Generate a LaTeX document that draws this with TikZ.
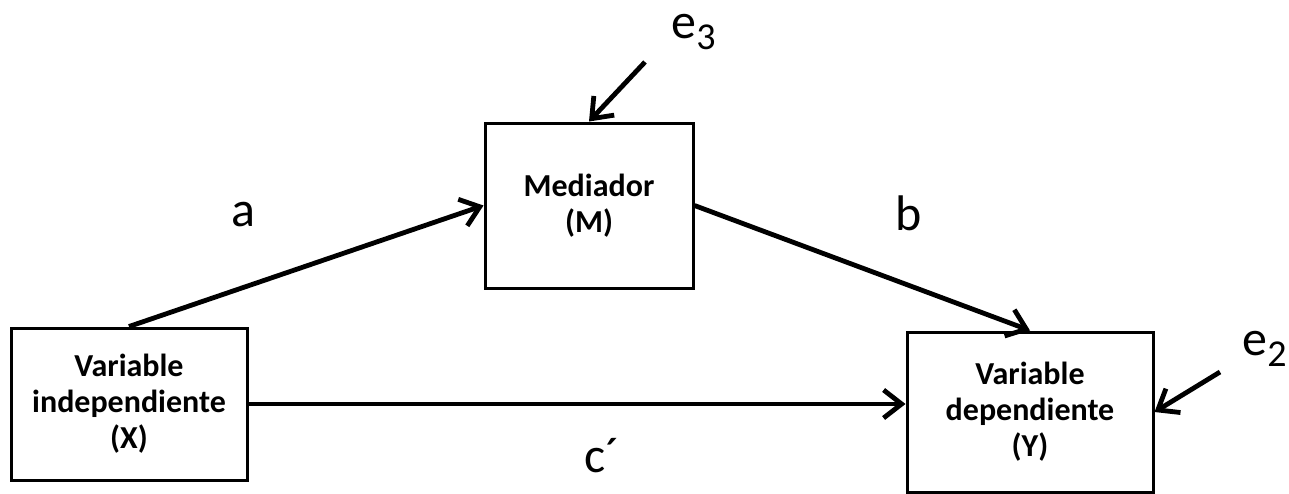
\documentclass[tikz,border=0pt]{standalone}
\usepackage{fontspec}
\setmainfont{Carlito}
\usetikzlibrary{arrows.meta}

\newcommand{\errsub}[1]{\raisebox{-5.5pt}{\fontsize{19}{19}\selectfont #1}}

\begin{document}
\begin{tikzpicture}[x=0.5pt,y=-0.5pt,
    >={Straight Barb[length=9pt,width=14pt,line width=2.4pt]},
    varbox/.style={draw,line width=1.5pt,align=center,font=\bfseries\fontsize{16}{18}\selectfont,
      inner sep=0pt},
    path/.style={->,line width=2.4pt},
    coef/.style={font=\fontsize{25}{30}\selectfont,inner sep=0pt,anchor=base}]
  \useasboundingbox (0,0) rectangle (1289,493);

  \node[varbox,minimum width=118pt,minimum height=76pt] (X) at (129,404)
    {Variable\\independiente\\(X)};
  \node[varbox,minimum width=104pt,minimum height=82.5pt] (M) at (589,205.5)
    {Mediador\\(M)};
  \node[varbox,minimum width=123pt,minimum height=80pt] (Y) at (1030,412)
    {Variable\\dependiente\\(Y)};

  \draw[path] (X.north) -- (M.west);
  \draw[path] (M.east) -- (Y.north);
  \draw[path] (X.east) -- (X.east -| Y.west);

  \node[coef] (a) at (243,226) {a};
  \node[coef] (b) at (909,230) {b};
  \node[coef] (c) at (602,472) {c´};

  % error terms
  \node[coef,anchor=base west] (e3) at (671,38) {e\errsub{3}};
  \coordinate (e3s) at (645,62);
  \draw[path] (e3s) -- (M.north);
  \node[coef,anchor=base west] (e2) at (1242,355) {e\errsub{2}};
  \coordinate (e2s) at (1220,372);
  \draw[path] (e2s) -- (Y.east);
\end{tikzpicture}
\end{document}
